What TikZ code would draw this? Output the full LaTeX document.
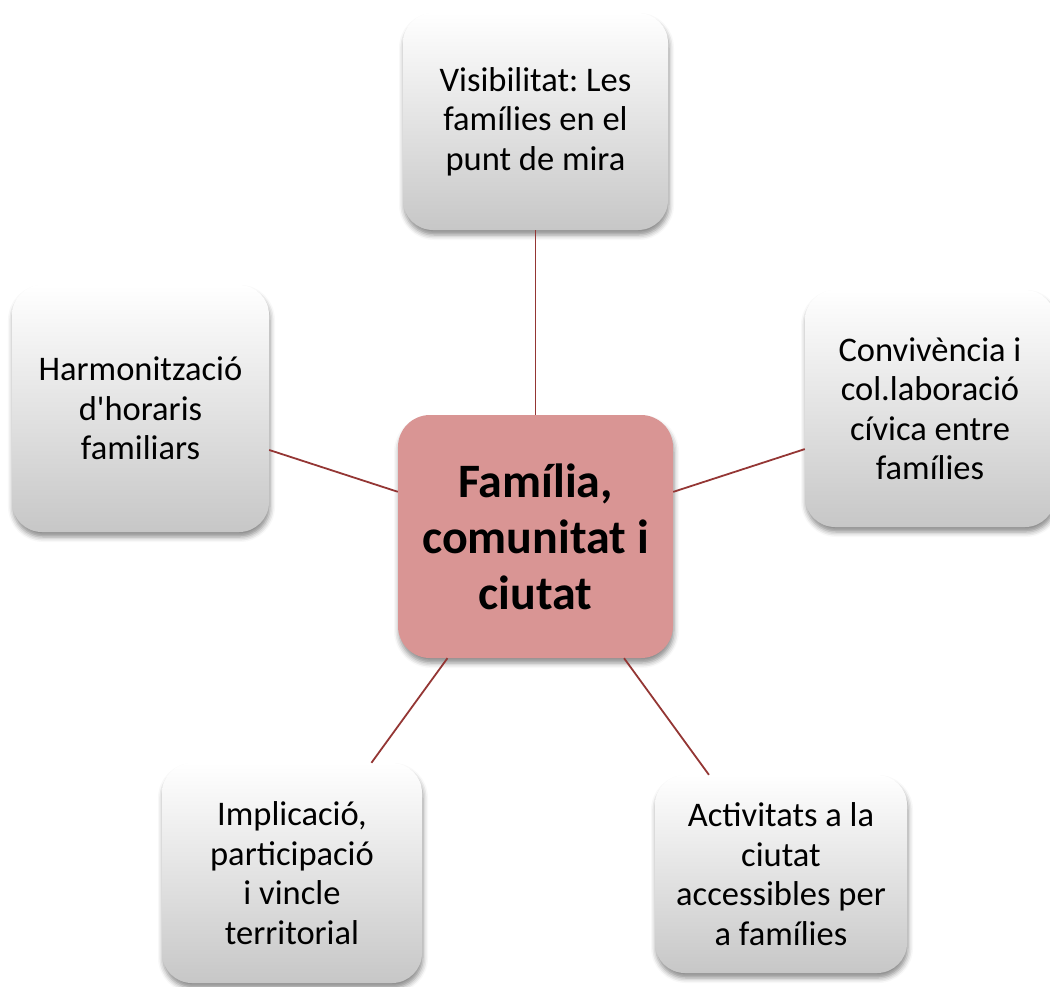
\documentclass[tikz,border=0pt]{standalone}
\usepackage{fontspec}
\setmainfont{Carlito}
\usetikzlibrary{shadows.blur}
\definecolor{linkred}{HTML}{943634}
\definecolor{hubfill}{HTML}{D99594}
\tikzset{
  leaf/.style={rectangle, rounded corners=30pt, align=center,
    top color=white, bottom color=black!22, draw=none,
    blur shadow={shadow xshift=1pt, shadow yshift=-5pt, shadow blur radius=5pt, shadow opacity=45},
    font=\fontsize{34.5}{39.5}\selectfont, inner sep=0pt},
  hub/.style={rectangle, rounded corners=32pt, align=center, fill=hubfill, draw=none,
    blur shadow={shadow xshift=1pt, shadow yshift=-5pt, shadow blur radius=5pt, shadow opacity=45},
    font=\fontsize{48}{56}\selectfont\bfseries, inner sep=0pt},
  link/.style={draw=linkred, line width=1.8pt}
}
\begin{document}
\frenchspacing
\begin{tikzpicture}[x=1pt,y=1pt]
\useasboundingbox (0,0) rectangle (1050,-986);
\node[hub, minimum width=275pt, minimum height=243pt] (c) at (535.5,-536.5) {Família,\\comunitat i\\ciutat};
\node[leaf, minimum width=265pt, minimum height=217pt] (t) at (535.5,-121.5) {Visibilitat: Les\\famílies en el\\punt de mira};
\node[leaf, minimum width=250pt, minimum height=237pt] (r) at (930,-408.5) {Convivència i\\col.laboració\\cívica entre\\famílies};
\node[leaf, minimum width=257pt, minimum height=247pt] (l) at (140.5,-408.5) {Harmonització\\d\textquotesingle horaris\\familiars};
\node[leaf, minimum width=260pt, minimum height=220pt] (bl) at (292,-873) {Implicació,\\participació\\i vincle\\territorial};
\node[leaf, minimum width=252pt, minimum height=198pt] (br) at (781,-874) {Activitats a la\\ciutat\\accessibles per\\a famílies};
\draw[link] (c) -- (t);
\draw[link] (c) -- (r);
\draw[link] (c) -- (l);
\draw[link] (c) -- (bl);
\draw[link] (c) -- (br);
\end{tikzpicture}
\end{document}
